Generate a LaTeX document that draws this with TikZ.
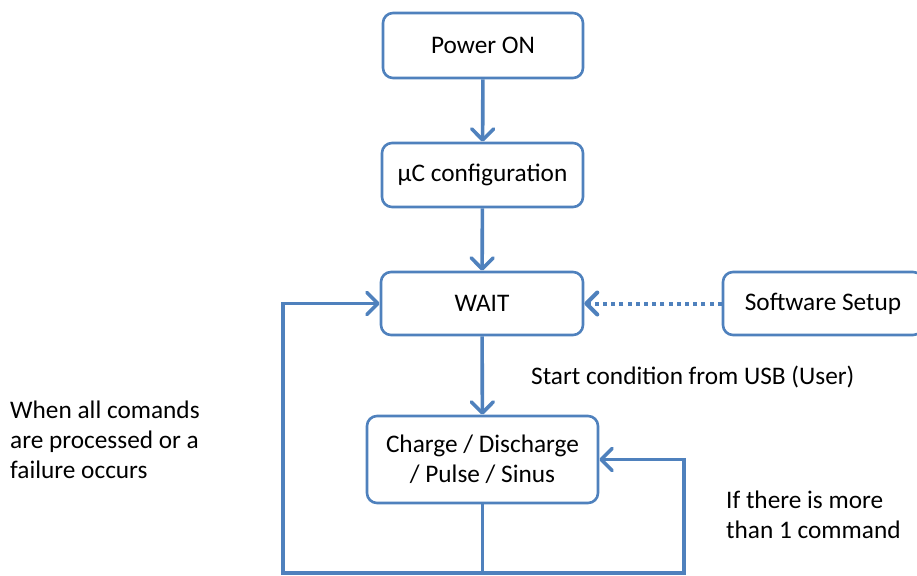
\documentclass[tikz,border=0pt]{standalone}
\usepackage{fontspec}
\setmainfont{Carlito}
\usetikzlibrary{arrows.meta}
\definecolor{obl}{RGB}{79,129,189}
\tikzset{
  box/.style={draw=obl, line width=2.6pt, rounded corners=10pt, fill=white,
    inner sep=0pt, align=center, font=\fontsize{25.3}{30}\selectfont},
  conn/.style={draw=obl, line width=3.6pt},
  arr/.style={conn, -{Straight Barb[length=11pt,width=22pt,line cap=round,line join=round]}},
  dotarr/.style={draw=obl, line width=4pt, dash pattern=on 4pt off 4.2pt,
    -{Straight Barb[length=11pt,width=22pt,line cap=round,line join=round]}},
  lbl/.style={inner sep=0pt, font=\fontsize{25.3}{30}\selectfont, align=left}
}
\begin{document}
\begin{tikzpicture}[x=1pt,y=-1pt]
\useasboundingbox (0,0) rectangle (917,575);
\node[box, minimum width=200pt, minimum height=65pt] (pw) at (483,45.5) {Power ON};
\node[box, minimum width=201pt, minimum height=64pt] (uc) at (482.5,175) {µC configuration};
\node[box, minimum width=202pt, minimum height=63pt] (wait) at (482,303.5) {WAIT};
\node[box, minimum width=200pt, minimum height=63pt] (sw) at (823,303.5) {Software Setup};
\node[box, minimum width=231pt, minimum height=87pt] (ch) at (482.5,459.5) {Charge / Discharge\\/ Pulse / Sinus};

\coordinate (bl) at (283,573);
\coordinate (bm) at (482.5,573);
\coordinate (br) at (684,573);

\draw[arr] (pw) -- (uc);
\draw[arr] (uc) -- (wait);
\draw[arr] (wait) -- (ch);
\draw[dotarr] (sw) -- (wait);
\draw[conn] (ch) -- (bm);
\draw[conn, line cap=rect] (bl) -- (br);
\draw[arr] (bl) |- (wait.west);
\draw[arr] (br) |- (ch.east);

\node[lbl, anchor=base west] (start) at (531,384) {Start condition from USB (User)};
\node[lbl, anchor=north west] (when) at (10,401) {When all comands\\are processed or a\\failure occurs};
\node[lbl, anchor=north west] (ifm) at (726,491) {If there is more\\than 1 command};
\end{tikzpicture}
\end{document}
